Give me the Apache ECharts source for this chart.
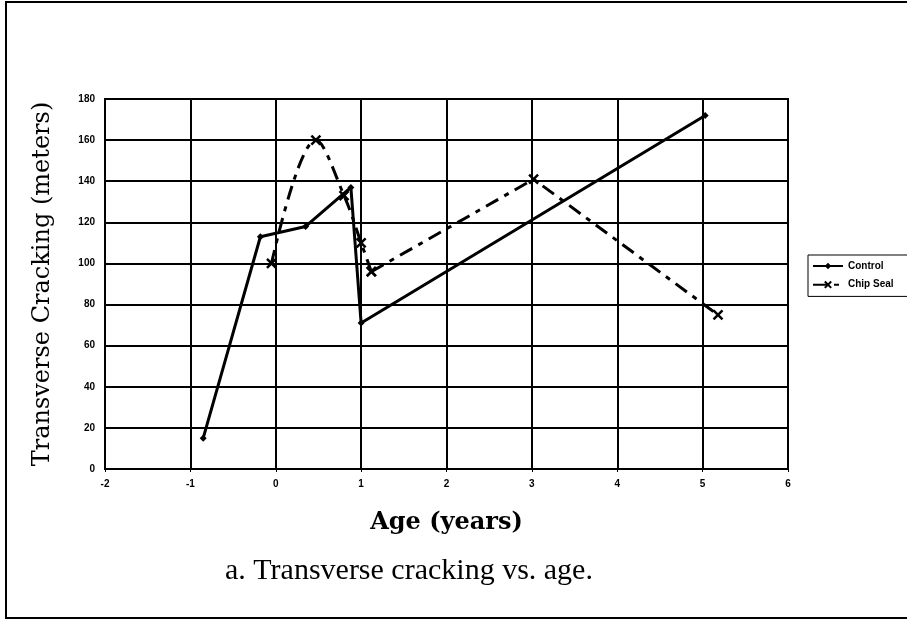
<!DOCTYPE html>
<html>
<head>
<meta charset="utf-8">
<script src="https://cdn.jsdelivr.net/npm/echarts@6/dist/echarts.min.js"></script>
<style>
  html, body { margin: 0; padding: 0; background: #fff; }
  #chart { width: 907px; height: 621px; }
</style>
</head>
<body>
<div id="chart"></div>
<script>
// data
const controlAge = [-0.85, -0.18, 0.35, 0.88, 1.0, 5.03];
const controlCrack = [15, 113, 118, 137, 71, 172];
// chip seal: curved early part, straight later part
const chipAgeEarly = [-0.05, 0.47, 0.8, 1.0, 1.12];
const chipCrackEarly = [100, 160, 133, 110, 96];
const chipAgeLate = [1.12, 3.02, 5.18];
const chipCrackLate = [96, 141, 75];
const xTicks = [-2, -1, 0, 1, 2, 3, 4, 5, 6];
const yTicks = [0, 20, 40, 60, 80, 100, 120, 140, 160, 180];

const toPairs = (xs, ys) => xs.map((x, i) => [x, ys[i]]);

const chart = echarts.init(document.getElementById("chart"), null, { renderer: "canvas" });

const tickFont = {
  color: "#000",
  fontFamily: "Liberation Sans",
  fontWeight: "bold",
  fontSize: 10,
};

const chipStyle = {
  name: "Chip Seal",
  type: "line",
  symbol: "path://M0,0L10,10M10,0L0,10",
  symbolSize: 9,
  lineStyle: { color: "#000", width: 3, type: [14, 7, 5, 7] },
  itemStyle: { color: "none", borderColor: "#000", borderWidth: 2.5 },
};

const options = {
  backgroundColor: "#fff",
  animation: false,
  grid: {
    left: 105,
    right: 119,
    top: 99,
    bottom: 152,
    show: true,
    borderColor: "#000",
    borderWidth: 2,
  },
  legend: {
    orient: "vertical",
    left: 808,
    top: 255,
    itemWidth: 30,
    itemHeight: 8,
    itemGap: 8,
    padding: [6, 30, 6, 4],
    borderColor: "#000",
    borderWidth: 1,
    textStyle: { ...tickFont },
    data: ["Control", "Chip Seal"],
  },
  xAxis: {
    type: "value",
    min: xTicks[0],
    max: xTicks[xTicks.length - 1],
    interval: 1,
    name: "Age (years)",
    nameLocation: "middle",
    nameGap: 42,
    nameTextStyle: {
      color: "#000",
      fontFamily: "DejaVu Serif",
      fontWeight: "bold",
      fontSize: 24,
    },
    axisLine: { lineStyle: { color: "#000", width: 2 } },
    axisTick: { show: true, length: 3, lineStyle: { color: "#000" } },
    axisLabel: { ...tickFont, margin: 10 },
    splitLine: { show: true, lineStyle: { color: "#000", width: 2 } },
  },
  yAxis: {
    type: "value",
    min: yTicks[0],
    max: yTicks[yTicks.length - 1],
    interval: 20,
    name: "Transverse Cracking (meters)",
    nameLocation: "middle",
    nameGap: 50,
    nameTextStyle: {
      color: "#000",
      fontFamily: "DejaVu Serif",
      fontSize: 24,
    },
    axisLine: { show: true, lineStyle: { color: "#000", width: 2 } },
    axisTick: { show: true, length: 3, lineStyle: { color: "#000" } },
    axisLabel: { ...tickFont, margin: 10 },
    splitLine: { show: true, lineStyle: { color: "#000", width: 2 } },
  },
  graphic: [
    {
      type: "text",
      left: 225,
      top: 556,
      style: {
        text: "a. Transverse cracking vs. age.",
        fill: "#000",
        font: "30px 'Liberation Serif'",
      },
    },
    {
      type: "polyline",
      shape: { points: [[930, 2], [6, 2], [6, 618], [930, 618]] },
      style: { stroke: "#000", lineWidth: 2, fill: null },
    },
  ],
  series: [
    {
      name: "Control",
      type: "line",
      data: toPairs(controlAge, controlCrack),
      symbol: "diamond",
      symbolSize: 7,
      lineStyle: { color: "#000", width: 3 },
      itemStyle: { color: "#000" },
    },
    {
      ...chipStyle,
      data: toPairs(chipAgeEarly, chipCrackEarly),
      smooth: 0.35,
    },
    {
      ...chipStyle,
      data: toPairs(chipAgeLate, chipCrackLate),
    },
  ],
};

chart.setOption(options);
</script>
</body>
</html>
